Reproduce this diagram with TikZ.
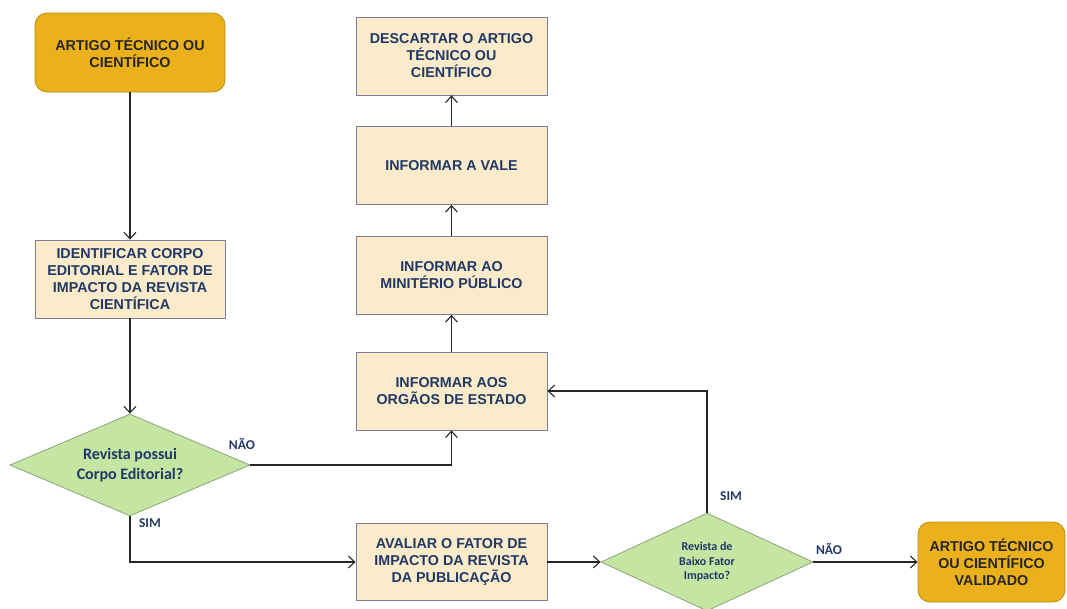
\documentclass[tikz,border=0pt]{standalone}
\usepackage{fontspec}
\setmainfont{Liberation Sans}
\newfontfamily\calib{Carlito}
\usetikzlibrary{shapes.geometric,arrows.meta}

\definecolor{boxfill}{HTML}{FCEBCB}
\definecolor{boxline}{HTML}{7C7C9A}
\definecolor{navy}{HTML}{1F3864}
\definecolor{gold}{HTML}{EBB11C}
\definecolor{goldline}{HTML}{B8900F}
\definecolor{leaf}{HTML}{C4E6A2}
\definecolor{leafline}{HTML}{8EA37C}

\tikzset{
  every picture/.style={x=1pt,y=-1pt},
  procbox/.style={draw=boxline, line width=0.8pt, fill=boxfill, text=navy,
    font=\bfseries\fontsize{14.3}{17}\selectfont, align=center,
    minimum width=191pt, minimum height=78pt, inner sep=2pt},
  termbox/.style={draw=goldline, line width=0.8pt, fill=gold, text=black!85,
    font=\bfseries\fontsize{14.3}{17}\selectfont, align=center,
    rounded corners=12pt, inner sep=2pt},
  decision/.style={diamond, draw=leafline, line width=0.8pt, fill=leaf, text=navy,
    font=\calib\bfseries\fontsize{16}{19.5}\selectfont, align=center, inner sep=0pt, aspect=2.3},
  flow/.style={draw=black!85, line width=1.1pt, -{Straight Barb[length=6.5pt,width=12pt,line width=1.1pt]}},
  edgelabel/.style={text=navy, font=\calib\bfseries\fontsize{13.5}{15}\selectfont}
}

\begin{document}
\begin{tikzpicture}
\useasboundingbox (0,0) rectangle (1067,608);

% left column
\node[termbox, minimum width=190pt, minimum height=79pt] (start) at (130,52.5) {ARTIGO TÉCNICO OU\\CIENTÍFICO};
\node[procbox, minimum width=190pt] (ident) at (130,279) {IDENTIFICAR CORPO\\EDITORIAL E FATOR DE\\IMPACTO DA REVISTA\\CIENTÍFICA};
\node[decision, minimum width=240pt, minimum height=102pt] (q1) at (130,465) {Revista possui\\Corpo Editorial?};

% middle column
\node[procbox] (descartar) at (451.5,56) {DESCARTAR O ARTIGO\\TÉCNICO OU\\CIENTÍFICO};
\node[procbox] (vale) at (451.5,165.5) {INFORMAR A VALE};
\node[procbox] (mp) at (451.5,275.5) {INFORMAR AO\\MINITÉRIO PÚBLICO};
\node[procbox] (orgaos) at (451.5,391) {INFORMAR AOS\\ORGÃOS DE ESTADO};
\node[procbox, minimum height=77pt] (avaliar) at (451.5,562) {AVALIAR O FATOR DE\\IMPACTO DA REVISTA\\DA PUBLICAÇÃO};

% right side
\node[decision, minimum width=212pt, minimum height=98pt,
      font=\calib\bfseries\fontsize{12}{14.5}\selectfont] (q2) at (707,562) {Revista de\\Baixo Fator\\Impacto?};
\node[termbox, minimum width=147pt, minimum height=80pt] (fim) at (991.5,562) {ARTIGO TÉCNICO\\OU CIENTÍFICO\\VALIDADO};

% connectors
\draw[flow] (start) -- (ident);
\draw[flow] (ident) -- (q1);
\draw[flow] (q1.east) -| (orgaos.south);
\draw[flow] (q1.south) |- (avaliar.west);
\draw[flow] (avaliar) -- (q2.west);
\draw[flow] (q2.east) -- (fim.west);
\draw[flow] (q2.north) |- (orgaos.east);
\draw[flow] (orgaos) -- (mp);
\draw[flow] (mp) -- (vale);
\draw[flow] (vale) -- (descartar);

% branch labels
\node[edgelabel] (nao1) at (242,444) {NÃO};
\node[edgelabel] (sim1) at (150,523) {SIM};
\node[edgelabel] (sim2) at (731,496) {SIM};
\node[edgelabel] (nao2) at (829,549) {NÃO};
\end{tikzpicture}
\end{document}
